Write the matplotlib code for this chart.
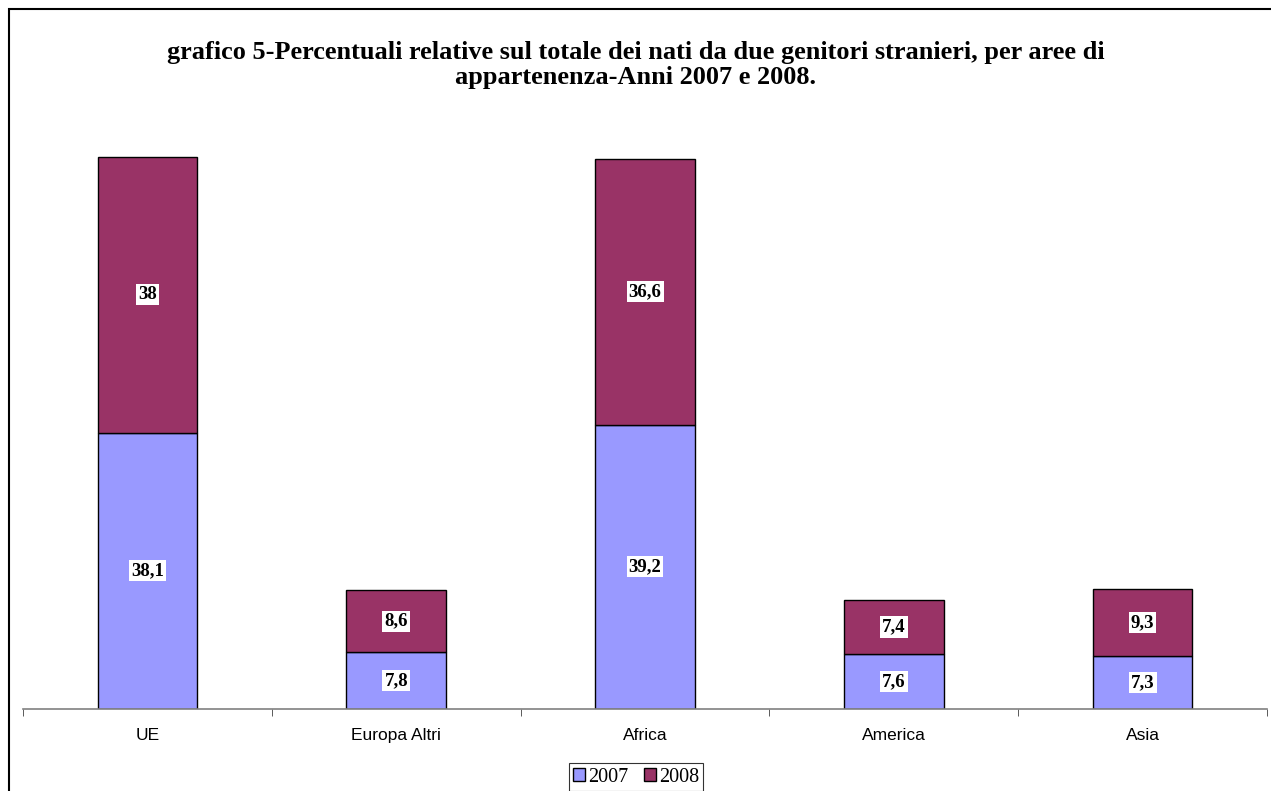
import matplotlib.pyplot as plt
import numpy as np
from matplotlib.patches import Rectangle

# data
areas = ["UE", "Europa Altri", "Africa", "America", "Asia"]
val_2007 = [38.1, 7.8, 39.2, 7.6, 7.3]
val_2008 = [38.0, 8.6, 36.6, 7.4, 9.3]
lab_2007 = ["38,1", "7,8", "39,2", "7,6", "7,3"]
lab_2008 = ["38", "8,6", "36,6", "7,4", "9,3"]

title = ("grafico 5-Percentuali relative sul totale dei nati da due genitori stranieri, per aree di\n"
         "appartenenza-Anni 2007 e 2008.")

fig = plt.figure(figsize=(12.71, 7.91), dpi=100)
ax = fig.add_axes([0.0181, 0.1037, 0.9788, 0.7336])

# outer frame (cut at right and bottom, like the source)
fig.patches.append(Rectangle((9 / 1271, -0.1), 1.2, 1 - 9 / 791 + 0.1,
                             transform=fig.transFigure, fill=False,
                             edgecolor="black", linewidth=1.5))

x = np.arange(len(areas))
w = 0.4
b1 = ax.bar(x, val_2007, w, color="#9999FF", edgecolor="black", linewidth=1, label="2007")
b2 = ax.bar(x, val_2008, w, bottom=val_2007, color="#993366", edgecolor="black",
            linewidth=1, label="2008")

box = dict(facecolor="white", edgecolor="none", pad=1.5)
for i in range(len(areas)):
    ax.text(x[i], val_2007[i] / 2, lab_2007[i], ha="center", va="center",
            family="Liberation Serif", weight="bold", fontsize=13.5, bbox=box)
    ax.text(x[i], val_2007[i] + val_2008[i] / 2, lab_2008[i], ha="center", va="center",
            family="Liberation Serif", weight="bold", fontsize=13.5, bbox=box)

ax.set_xlim(-0.5, len(areas) - 0.5)
ax.set_ylim(0, 80)
for s in ["top", "right", "left"]:
    ax.spines[s].set_visible(False)
ax.spines["bottom"].set_color("#808080")
ax.spines["bottom"].set_linewidth(1.2)
ax.set_yticks([])
ax.set_xticks(x)
ax.set_xticklabels(areas, family="Liberation Sans", fontsize=12.5)
ax.tick_params(axis="x", which="major", length=0, pad=14)
ax.set_xticks(np.arange(-0.5, len(areas)), minor=True)
ax.tick_params(axis="x", which="minor", length=5, color="#404040", direction="out")

fig.text(0.5, 1 - 65 / 791, title, ha="center", va="center", family="Liberation Serif",
         weight="bold", fontsize=18.9, linespacing=1.1)

leg = fig.legend(loc="center", bbox_to_anchor=(636 / 1271, 1 - 777 / 791), ncol=2,
                 prop={"family": "Liberation Serif", "size": 14.5}, frameon=True,
                 fancybox=False, edgecolor="black", handlelength=0.6, handleheight=0.6,
                 handletextpad=0.15, columnspacing=0.8, borderpad=0.2, borderaxespad=0)
leg.get_frame().set_linewidth(0.8)

fig.savefig("out.png", dpi=100)
